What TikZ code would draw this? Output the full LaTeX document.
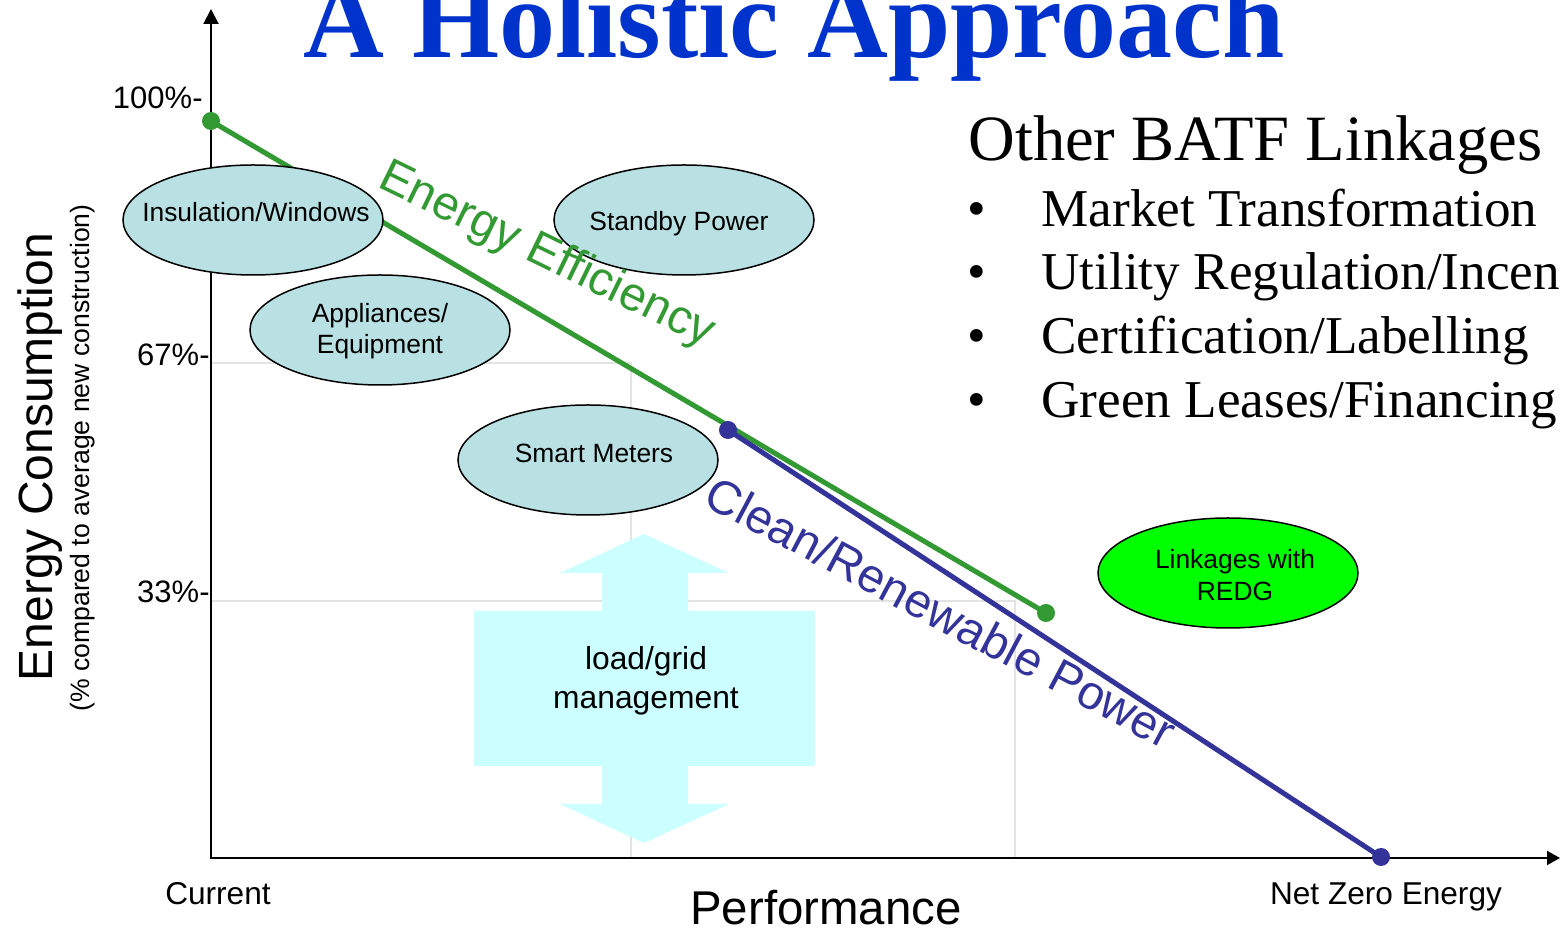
\documentclass[tikz,border=0pt]{standalone}
\usepackage{fontspec}
\setmainfont{Liberation Sans}
\newfontfamily\timesfont{Liberation Serif}
\usetikzlibrary{shapes.geometric,arrows.meta}
\definecolor{titleblue}{HTML}{0033CC}
\definecolor{eegreen}{HTML}{339933}
\definecolor{crblue}{HTML}{333399}
\definecolor{ovalfill}{HTML}{B9E0E3}
\definecolor{redgfill}{HTML}{00FF00}
\definecolor{arrowfill}{HTML}{CCFFFF}
\definecolor{gridgray}{HTML}{E3E3E3}
\tikzset{
  oval/.style={ellipse, draw=black, line width=0.75pt, fill=ovalfill,
    minimum width=130pt, minimum height=55pt, inner sep=0pt},
  ovaltext/.style={font=\fontsize{13.2}{15.8}\selectfont, align=center, inner sep=0pt},
  ticklbl/.style={font=\fontsize{15.5}{18}\selectfont, anchor=base east, inner sep=0pt},
  axislbl/.style={font=\fontsize{15.8}{18}\selectfont, anchor=base, inner sep=0pt},
  axisline/.style={line width=1pt, draw=black},
  gridline/.style={draw=gridgray, line width=0.8pt},
  gline/.style={draw=eegreen, line width=2.5pt},
  bline/.style={draw=crblue, line width=2.5pt},
  gdot/.style={circle, fill=eegreen, minimum size=9pt, inner sep=0pt},
  bdot/.style={circle, fill=crblue, minimum size=9pt, inner sep=0pt},
  listtext/.style={font=\timesfont\fontsize{26.6}{30}\selectfont, anchor=base west, inner sep=0pt},
  slanted/.style={font=\fontsize{23.8}{28}\selectfont, anchor=base, inner sep=0pt},
}
\begin{document}
\begin{tikzpicture}[x=0.5pt,y=-0.5pt]
\useasboundingbox (0,0) rectangle (1560,929);
\fill[white] (0,0) rectangle (1560,929);
\clip (0,0) rectangle (1560,929);

% grid
\draw[gridline] (211,363) -- (631,363) -- (631,858);
\draw[gridline] (211,601) -- (1015,601) -- (1015,858);

% load/grid double arrow
\fill[arrowfill] (644,534) -- (729,573) -- (688,573) -- (688,611) -- (815,611)
  -- (815,766) -- (688,766) -- (688,804) -- (729,804) -- (644,843)
  -- (560,804) -- (602,804) -- (602,766) -- (474,766) -- (474,611)
  -- (602,611) -- (602,573) -- (560,573) -- cycle;
\node[font=\fontsize{15.9}{19.5}\selectfont, align=center, inner sep=0pt] (lg) at (646,681) {load/grid\\management};

% axes
\coordinate (ytop) at (211,9);
\coordinate (O) at (211,858);
\coordinate (xend) at (1560,858);
\draw[axisline, {Triangle[length=7.5pt,width=7.5pt]}-{Triangle[length=6.5pt,width=7pt]}] (ytop) -- (O) -- (xend);

\node[ticklbl] (t100) at (203,109) {100\%-};
\node[ticklbl] (t67) at (210,366) {67\%-};
\node[ticklbl] (t33) at (210,603) {33\%-};

% trend lines
\coordinate (g1) at (211,121);
\coordinate (g2) at (1046,613);
\coordinate (b1) at (728,430);
\coordinate (b2) at (1381,857);
\draw[gline] (g1) -- (g2);
\draw[bline] (b1) -- (b2);
\node[gdot] (g1dot) at (g1) {};
\node[gdot] (g2dot) at (g2) {};
\node[bdot] (b1dot) at (b1) {};
\node[bdot] (b2dot) at (b2) {};

% ellipses
\node[oval] (ins) at (253,220) {};
\node[oval] (std) at (684,220) {};
\node[oval] (app) at (380,330) {};
\node[oval] (smt) at (588,460) {};
\node[oval, fill=redgfill] (redg) at (1228,573) {};
\node[ovaltext, anchor=base] (inst) at (256,222) {Insulation/Windows};
\node[ovaltext, anchor=base] (stdt) at (679,231) {Standby Power};
\node[ovaltext] (appt) at (380,331) {Appliances/\\Equipment};
\node[ovaltext, anchor=base] (smtt) at (594,463) {Smart Meters};
\node[ovaltext] (redgt) at (1235,575) {Linkages with\\REDG};

% slanted labels
\node[slanted, text=eegreen, rotate=-26] (eelbl) at (541,267) {Energy Efficiency};
\node[slanted, text=crblue, rotate=-28] (crlbl) at (933,627) {Clean/Renewable Power};

% axis titles
\node[font=\fontsize{24}{28}\selectfont, rotate=90, anchor=base, inner sep=0pt] (ylbl) at (52,457) {Energy Consumption};
\node[font=\fontsize{13.3}{16}\selectfont, rotate=90, anchor=base, inner sep=0pt] (ysub) at (90,458) {(\% compared to average new construction)};
\node[axislbl] (cur) at (218,905) {Current};
\node[axislbl] (nze) at (1386,905) {Net Zero Energy};
\node[font=\fontsize{23.7}{28}\selectfont, anchor=base, inner sep=0pt] (perf) at (826,925) {Performance};

% title
\node[font=\timesfont\bfseries\fontsize{56}{60}\selectfont, text=titleblue, anchor=base, inner sep=0pt] (title) at (794,58) {A Holistic Approach};

% right list
\node[font=\timesfont\fontsize{32.3}{36}\selectfont, anchor=base west, inner sep=0pt] (oth) at (968,161) {Other BATF Linkages};
\node[listtext] (bu1) at (967,227) {•};
\node[listtext] (bu2) at (967,290) {•};
\node[listtext] (bu3) at (967,354) {•};
\node[listtext] (bu4) at (967,418) {•};
\node[listtext] (li1) at (1041,227) {Market Transformation};
\node[listtext] (li2) at (1041,290) {Utility Regulation/Incen};
\node[listtext] (li3) at (1041,354) {Certification/Labelling};
\node[listtext] (li4) at (1041,418) {Green Leases/Financing};
\end{tikzpicture}
\end{document}
